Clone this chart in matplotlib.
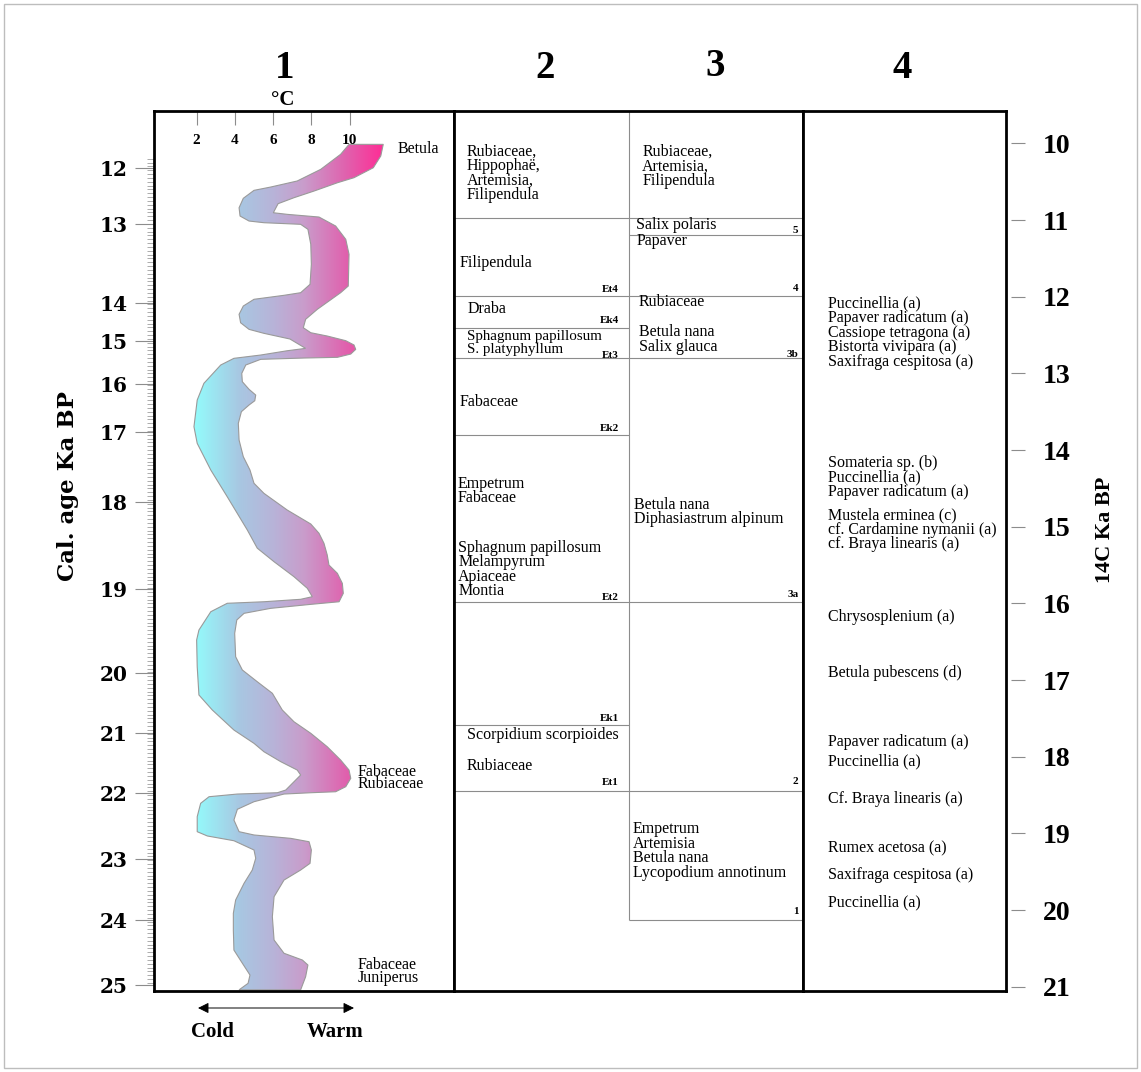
import numpy as np
import matplotlib
matplotlib.use("Agg")
import matplotlib.pyplot as plt
import matplotlib.transforms as mtransforms
from matplotlib.colors import LinearSegmentedColormap
from matplotlib.patches import Polygon, Rectangle, FancyArrowPatch
from matplotlib.ticker import FixedLocator, NullFormatter

W, H, DPI = 1141, 1072, 100
SERIF = "Liberation Serif"

# ---------------- data ----------------
# radiocarbon axis (right) and calibrated ages (left) placed on it
c14_ticks = [10, 11, 12, 13, 14, 15, 16, 17, 18, 19, 20, 21]
cal_ticks = [12, 13, 14, 15, 16, 17, 18, 19, 20, 21, 22, 23, 24, 25]
cal_tick_c14 = [10.32, 11.05, 12.08, 12.58, 13.14, 13.76, 14.68, 15.81,
                16.91, 17.69, 18.47, 19.33, 20.13, 20.98]
temp_ticks = [2, 4, 6, 8, 10]

# temperature envelope: warm-side and cold-side outlines (degC, 14C ka BP)
warm_temp = [11.76, 11.63, 11.24, 10.23, 9.36, 8.14, 7.09, 6.26, 6.01, 6.74,
             8.40, 9.27, 9.80, 9.97, 9.93, 9.53, 8.31, 7.70, 7.58, 7.97,
             8.83, 9.80, 10.23, 10.32, 10.06, 9.36, 7.62, 5.35, 4.57, 4.36,
             4.39, 4.74, 5.09, 5.04, 4.74, 4.34, 4.18, 4.22, 4.44, 4.79,
             5.00, 5.52, 6.74, 7.97, 8.40, 8.66, 8.83, 8.92, 9.36, 9.62,
             9.67, 9.45, 7.97, 5.87, 4.48, 4.10, 3.99, 4.04, 4.39, 5.17,
             5.96, 6.48, 7.09, 7.97, 8.83, 9.53, 9.97, 10.06, 9.80, 9.27,
             7.97, 6.57, 5.00, 4.13, 3.95, 4.22, 5.00, 6.92, 7.88, 8.00,
             7.93, 7.44, 6.57, 6.05, 5.96, 6.05, 6.57, 7.53, 7.82, 7.70, 7.44]
warm_age = [10.012, 10.164, 10.317, 10.447, 10.513, 10.621, 10.708, 10.786, 10.904, 10.925,
            10.960, 11.077, 11.251, 11.446, 11.860, 11.947, 12.164, 12.294, 12.404, 12.469,
            12.512, 12.573, 12.629, 12.686, 12.747, 12.790, 12.799, 12.816, 12.890, 12.999,
            13.108, 13.207, 13.282, 13.356, 13.412, 13.499, 13.651, 13.869, 14.086, 14.260,
            14.433, 14.564, 14.782, 14.964, 15.085, 15.216, 15.368, 15.499, 15.607, 15.738,
            15.868, 15.978, 16.012, 16.064, 16.129, 16.216, 16.390, 16.695, 16.868, 17.021,
            17.172, 17.390, 17.543, 17.694, 17.869, 18.042, 18.173, 18.281, 18.390, 18.456,
            18.469, 18.486, 18.586, 18.685, 18.825, 18.977, 19.020, 19.064, 19.108, 19.216,
            19.390, 19.477, 19.608, 19.825, 20.086, 20.390, 20.563, 20.651, 20.716, 20.869, 21.040]
cold_temp = [9.97, 9.53, 8.49, 7.26, 5.87, 5.00, 4.44, 4.22, 4.27, 4.74,
             5.52, 7.44, 7.82, 7.97, 8.00, 7.93, 7.44, 6.57, 5.00, 4.44,
             4.22, 4.30, 4.74, 5.52, 6.88, 7.70, 6.74, 5.35, 3.95, 3.26,
             2.38, 2.03, 1.86, 2.03, 2.74, 3.60, 4.65, 5.17, 6.05, 7.09,
             7.79, 8.05, 7.44, 5.52, 3.60, 2.74, 2.12, 2.00, 2.03, 2.12,
             2.82, 3.95, 5.00, 5.52, 6.40, 7.26, 7.44, 6.66, 6.22, 4.13,
             2.65, 2.21, 2.03, 2.03, 2.56, 3.95, 5.00, 5.09, 4.91, 4.48,
             4.04, 3.92, 3.92, 3.95, 4.34, 4.79, 4.69, 4.22]
cold_age = [10.012, 10.142, 10.338, 10.490, 10.569, 10.612, 10.716, 10.839, 10.947, 11.012,
            11.034, 11.055, 11.120, 11.316, 11.577, 11.838, 11.947, 11.981, 12.033, 12.121,
            12.229, 12.339, 12.425, 12.477, 12.551, 12.673, 12.704, 12.760, 12.803, 12.890,
            13.129, 13.347, 13.695, 13.912, 14.260, 14.608, 15.042, 15.279, 15.456, 15.651,
            15.803, 15.912, 15.946, 15.978, 15.998, 16.108, 16.347, 16.477, 16.825, 17.194,
            17.390, 17.651, 17.825, 17.934, 18.064, 18.173, 18.238, 18.434, 18.469, 18.486,
            18.521, 18.607, 18.782, 18.977, 19.033, 19.095, 19.216, 19.324, 19.477, 19.650,
            19.868, 20.042, 20.260, 20.521, 20.673, 20.847, 20.955, 21.040]

# taxa marking the temperature record: (x degC, first-line age, lines)
curve_labels = [(12.53, 10.09, ["Betula"]),
                (10.44, 18.212, ["Fabaceae", "Rubiaceae"]),
                (10.44, 20.738, ["Fabaceae", "Juniperus"])]

# column 2: pollen / moss zones
col2_bounds = [11.990, 12.408, 12.799, 13.803, 15.981, 17.585, 18.446]
col2_codes = [("Et4", 11.899), ("Ek4", 12.316), ("Et3", 12.76), ("Ek2", 13.712),
              ("Et2", 15.916), ("Ek1", 17.507), ("Et1", 18.329)]
# (x, first-line age, lines, font size)
col2_taxa = [(0.037, 10.125, ["Rubiaceae,", "Hippophaë,", "Artemisia,", "Filipendula"], 11.5),
             (0.017, 11.573, ["Filipendula"], 11.5),
             (0.040, 12.173, ["Draba"], 11.5),
             (0.037, 12.551, ["Sphagnum papillosum", "S. platyphyllum"], 10.8),
             (0.017, 13.386, ["Fabaceae"], 11.5),
             (0.009, 14.456, ["Empetrum", "Fabaceae"], 11.5),
             (0.012, 15.290, ["Sphagnum papillosum", "Melampyrum", "Apiaceae", "Montia"], 11.5),
             (0.037, 17.730, ["Scorpidium scorpioides"], 11.5),
             (0.037, 18.134, ["Rubiaceae"], 11.5)]

# column 3: pollen zones
col3_bounds = [11.195, 11.990, 12.799, 15.981, 18.446, 20.129]
col3_codes = [("5", 11.13), ("4", 11.89), ("3b", 12.75), ("3a", 15.877),
              ("2", 18.325), ("1", 20.02)]
col3_taxa = [(0.539, 10.125, ["Rubiaceae,", "Artemisia,", "Filipendula"], 11.5),
             (0.521, 11.086, ["Salix polaris"], 11.5),
             (0.524, 11.295, ["Papaver"], 11.5),
             (0.530, 12.086, ["Rubiaceae"], 11.5),
             (0.530, 12.477, ["Betula nana", "Salix glauca"], 11.5),
             (0.516, 14.730, ["Betula nana", "Diphasiastrum alpinum"], 11.5),
             (0.513, 18.964, ["Empetrum", "Artemisia", "Betula nana",
                              "Lycopodium annotinum"], 11.5)]
top_zone_line = 10.973

# column 4: dated macrofossils (first-line age, lines)
col4_taxa = [(12.108, ["Puccinellia (a)", "Papaver radicatum (a)", "Cassiope tetragona (a)",
                       "Bistorta vivipara (a)", "Saxifraga cespitosa (a)"]),
             (14.182, ["Somateria sp. (b)", "Puccinellia (a)", "Papaver radicatum (a)"]),
             (14.869, ["Mustela erminea (c)", "cf. Cardamine nymanii (a)",
                       "cf. Braya linearis (a)"]),
             (16.194, ["Chrysosplenium (a)"]),
             (16.921, ["Betula pubescens (d)"]),
             (17.824, ["Papaver radicatum (a)"]),
             (18.072, ["Puccinellia (a)"]),
             (18.573, ["Cf. Braya linearis (a)"]),
             (19.207, ["Rumex acetosa (a)"]),
             (19.555, ["Saxifraga cespitosa (a)"]),
             (19.920, ["Puccinellia (a)"])]

# ---------------- layout ----------------
Y_TOP, Y_BOT = 9.577, 21.055
TOP_SHIFT = 0.122           # from a line's visual middle up to its text box top (14C units)
GRID = "#8c8c8c"

fig = plt.figure(figsize=(W / DPI, H / DPI), dpi=DPI)
fig.patch.set_facecolor("white")


def fx(px):
    return px / W


def fy(py):
    return 1 - py / H


def text_block(ax, x, y_first, lines, size=11.5, spacing=0.877):
    step_fix = 11.5 / size      # keep the same line pitch for a smaller font
    ax.text(x, y_first - TOP_SHIFT * size / 11.5, "\n".join(lines), ha="left", va="top",
            fontsize=size, family=SERIF, linespacing=spacing * step_fix)


frame_bottom, frame_h = fy(991), (991 - 111) / H
ax1 = fig.add_axes([fx(154), frame_bottom, (454 - 154) / W, frame_h])
ax23 = fig.add_axes([fx(454), frame_bottom, (803 - 454) / W, frame_h])
ax4 = fig.add_axes([fx(803), frame_bottom, (1006 - 803) / W, frame_h])

for ax in (ax1, ax23, ax4):
    ax.set_ylim(Y_BOT, Y_TOP)
    for s in ax.spines.values():
        s.set_linewidth(2.0)
        s.set_color("black")
        s.set_zorder(10)

# ---- panel 1: temperature envelope ----
poly_t = warm_temp + cold_temp[::-1]
poly_a = warm_age + cold_age[::-1]
tmin, tmax = min(cold_temp), max(warm_temp)
cmap = LinearSegmentedColormap.from_list(
    "coldwarm",
    [(0.0, "#93fcfc"), (0.24, "#a8c7e2"), (0.42, "#b8b3d8"),
     (0.58, "#c99ccb"), (0.80, "#e062ae"), (1.0, "#ff2c95")])
grad = np.linspace(0, 1, 512).reshape(1, -1)
im = ax1.imshow(grad, extent=[tmin, tmax, Y_TOP, Y_BOT], aspect="auto",
                cmap=cmap, origin="lower", interpolation="bilinear", zorder=2)
poly = Polygon(np.column_stack([poly_t, poly_a]), closed=True,
               facecolor="none", edgecolor="#9a9a9a", linewidth=0.8, zorder=3)
ax1.add_patch(poly)
im.set_clip_path(poly)
ax1.set_xlim((154 - 158.4) / 19.12, (454 - 158.4) / 19.12)
ax1.set_ylim(Y_BOT, Y_TOP)

ax1.xaxis.set_ticks_position("top")
ax1.set_xticks(temp_ticks)
ax1.tick_params(axis="x", direction="in", length=10, width=0.8, color=GRID,
                labeltop=False, labelbottom=False)
xt = mtransforms.blended_transform_factory(ax1.transData, ax1.transAxes)
for t in temp_ticks:
    ax1.text(t, 0.966, str(t), transform=xt, ha="center", va="center",
             fontsize=11, fontweight="bold", family=SERIF)

ax1.yaxis.set_major_locator(FixedLocator(cal_tick_c14))
ax1.set_yticklabels([str(c) for c in cal_ticks])
ax1.yaxis.set_minor_locator(FixedLocator(np.arange(10.2, 21.0, 0.05)))
ax1.yaxis.set_minor_formatter(NullFormatter())
ax1.tick_params(axis="y", which="major", direction="out", length=14, width=0.8,
                color=GRID, pad=5)
ax1.tick_params(axis="y", which="minor", direction="out", length=5, width=0.5,
                color=GRID)
for lab in ax1.get_yticklabels():
    lab.set_fontfamily("DejaVu Serif")
    lab.set_fontweight("bold")
    lab.set_fontsize(14.5)

for t, a, lines in curve_labels:
    text_block(ax1, t, a, lines, spacing=0.725)

# ---- panels 2 and 3: zonations ----
ax23.set_xlim(0, 1)
ax23.set_xticks([])
ax23.set_yticks([])
div = (629 - 454) / (803 - 454)
ax23.hlines(top_zone_line, 0, 1, color=GRID, lw=0.8)
ax23.hlines(col2_bounds, 0, div, color=GRID, lw=0.8)
ax23.hlines(col3_bounds, div, 1, color=GRID, lw=0.8)
ax23.vlines(div, Y_TOP, col3_bounds[-1], color=GRID, lw=0.8)

for x0, a0, lines, size in col2_taxa + col3_taxa:
    text_block(ax23, x0, a0, lines, size=size)
for code, a in col2_codes:
    ax23.text(0.472, a, code, ha="right", va="center", fontsize=8,
              fontweight="bold", family=SERIF)
for code, a in col3_codes:
    ax23.text(0.987, a, code, ha="right", va="center", fontsize=8,
              fontweight="bold", family=SERIF)

# ---- panel 4: macrofossils ----
ax4.set_xlim(0, 1)
ax4.set_xticks([])
ax4.set_yticks([])
for a, lines in col4_taxa:
    text_block(ax4, 0.125, a, lines)

# ---- right radiocarbon axis ----
axr = fig.add_axes([fx(1011), frame_bottom, 1e-4, frame_h])
axr.set_ylim(Y_BOT, Y_TOP)
axr.patch.set_visible(False)
for s in axr.spines.values():
    s.set_visible(False)
axr.xaxis.set_visible(False)
axr.yaxis.tick_right()
axr.set_yticks(c14_ticks)
axr.tick_params(axis="y", direction="out", length=10, width=0.8, color=GRID, pad=13)
for lab in axr.get_yticklabels():
    lab.set_fontfamily(SERIF)
    lab.set_fontweight("bold")
    lab.set_fontsize(20)

# ---- headings and axis titles ----
for num, x, y in [("1", 285, 68), ("2", 545, 68), ("3", 715, 66), ("4", 902, 68)]:
    fig.text(fx(x), fy(y), num, ha="center", va="center", fontsize=28,
             fontweight="bold", family=SERIF)
fig.text(fx(283), fy(100), "°C", ha="center", va="center", fontsize=15,
         fontweight="bold", family=SERIF)
fig.text(fx(68), fy(486), "Cal. age Ka BP", rotation=90, ha="center", va="center",
         fontsize=16.5, fontweight="bold", family="DejaVu Serif")
fig.text(fx(1105), fy(530), "14C Ka BP", rotation=90, ha="center", va="center",
         fontsize=16, fontweight="bold", family=SERIF)

arrow = FancyArrowPatch((fx(198), fy(1008)), (fx(354), fy(1008)),
                        transform=fig.transFigure, arrowstyle="<|-|>",
                        mutation_scale=16, lw=0.7, color="black",
                        shrinkA=0, shrinkB=0)
fig.add_artist(arrow)
fig.text(fx(212), fy(1032), "Cold", ha="center", va="center", fontsize=15,
         fontweight="bold", family=SERIF)
fig.text(fx(335), fy(1032), "Warm", ha="center", va="center", fontsize=15,
         fontweight="bold", family=SERIF)

fig.add_artist(Rectangle((fx(4), fy(1068)), (1137 - 4) / W, (1068 - 4) / H,
                         transform=fig.transFigure, fill=False,
                         edgecolor="#bdbdbd", linewidth=1.0))

fig.savefig("out.png", dpi=DPI, facecolor="white")
